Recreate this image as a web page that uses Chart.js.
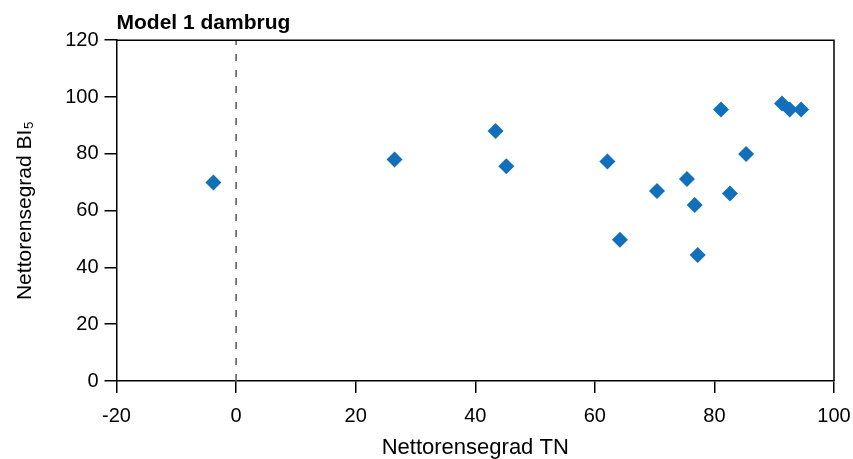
<!DOCTYPE html>
<html>
<head>
<meta charset="utf-8">
<script src="https://cdn.jsdelivr.net/npm/chart.js@4"></script>
<style>
  html, body { margin: 0; padding: 0; background: #fff; }
  #wrap { width: 853px; height: 459px; }
</style>
</head>
<body>
<div id="wrap"><canvas id="chart"></canvas></div>
<script>
// nettorensegrad for TN (x) and BI5 (y), one point per dambrug
const tnValues  = [-3.8, 26.5, 43.4, 45.2, 62.1, 64.2, 70.4, 75.4, 76.7, 77.2, 81.1, 82.6, 85.3, 91.3, 92.6, 94.5]
const bi5Values = [69.9, 78.0, 88.0, 75.6, 77.3, 49.7, 66.9, 71.1, 62.0, 44.4, 95.6, 66.0, 79.9, 97.7, 95.6, 95.6]
const xTicks = [-20, 0, 20, 40, 60, 80, 100]
const yTicks = [0, 20, 40, 60, 80, 100, 120]

const fontFamily = "'Liberation Sans', Arial, Helvetica, sans-serif"

let points = tnValues.map((x, i) => ({x: x, y: bi5Values[i]}))

// box around the plot area (top and right sides)
const frame = {
    id: 'frame',
    afterDatasetsDraw(chart) {
        const a = chart.chartArea
        const ctx = chart.ctx
        ctx.save()
        ctx.strokeStyle = '#000'
        ctx.lineWidth = 1.5
        ctx.beginPath()
        ctx.moveTo(a.left, a.top)
        ctx.lineTo(a.right, a.top)
        ctx.lineTo(a.right, a.bottom)
        ctx.stroke()
        ctx.restore()
    }
}

new Chart('chart', {
    type: 'scatter',
    data: {
        datasets: [{
            data: points,
            pointStyle: 'rectRot',
            pointRadius: 8,
            pointHoverRadius: 8,
            pointBorderWidth: 0,
            backgroundColor: '#1170bc',
            borderColor: '#1170bc'
        }, {
            // reference line at TN = 0
            type: 'line',
            data: [{x: 0, y: yTicks[0]}, {x: 0, y: yTicks[yTicks.length - 1]}],
            borderColor: '#555',
            borderWidth: 1.5,
            borderDash: [7, 9],
            pointRadius: 0,
            fill: false
        }]
    },
    options: {
        responsive: true,
        maintainAspectRatio: false,
        animation: false,
        layout: { padding: { left: 0, right: 19, top: 0, bottom: 0 } },
        plugins: {
            legend: { display: false },
            tooltip: { enabled: false },
            title: {
                display: true,
                text: 'Model 1 dambrug',
                align: 'start',
                fullSize: false,
                color: '#000',
                font: { family: fontFamily, size: 21, weight: 'bold', lineHeight: 1.2 },
                padding: { top: 11, bottom: 4 }
            }
        },
        scales: {
            x: {
                type: 'linear',
                min: xTicks[0],
                max: xTicks[xTicks.length - 1],
                afterBuildTicks: s => { s.ticks = xTicks.map(v => ({value: v})) },
                afterFit: s => {
                    s.height = 78
                    s.paddingLeft = 0
                    s.paddingRight = 0
                },
                border: { display: true, color: '#000', width: 1.5 },
                grid: { drawOnChartArea: false, drawTicks: true, tickLength: 12, color: '#000', lineWidth: 1.5 },
                ticks: {
                    color: '#000',
                    padding: 11,
                    maxRotation: 0,
                    font: { family: fontFamily, size: 20 }
                },
                title: {
                    display: true,
                    text: 'Nettorensegrad TN',
                    color: '#000',
                    font: { family: fontFamily, size: 22, lineHeight: 1 },
                    padding: { top: 0, bottom: 0 }
                }
            },
            y: {
                type: 'linear',
                min: yTicks[0],
                max: yTicks[yTicks.length - 1],
                afterBuildTicks: s => { s.ticks = yTicks.map(v => ({value: v})) },
                afterFit: s => { s.width = 116.5 },
                border: { display: true, color: '#000', width: 1.5 },
                grid: { drawOnChartArea: false, drawTicks: true, tickLength: 12, color: '#000', lineWidth: 1.5 },
                ticks: {
                    color: '#000',
                    padding: 6,
                    font: { family: fontFamily, size: 20 }
                },
                title: {
                    display: true,
                    text: 'Nettorensegrad BI\u2085',
                    color: '#000',
                    font: { family: fontFamily, size: 21, lineHeight: 1.2 },
                    padding: { top: 13, bottom: 0 }
                }
            }
        }
    },
    plugins: [frame]
})
</script>
</body>
</html>
